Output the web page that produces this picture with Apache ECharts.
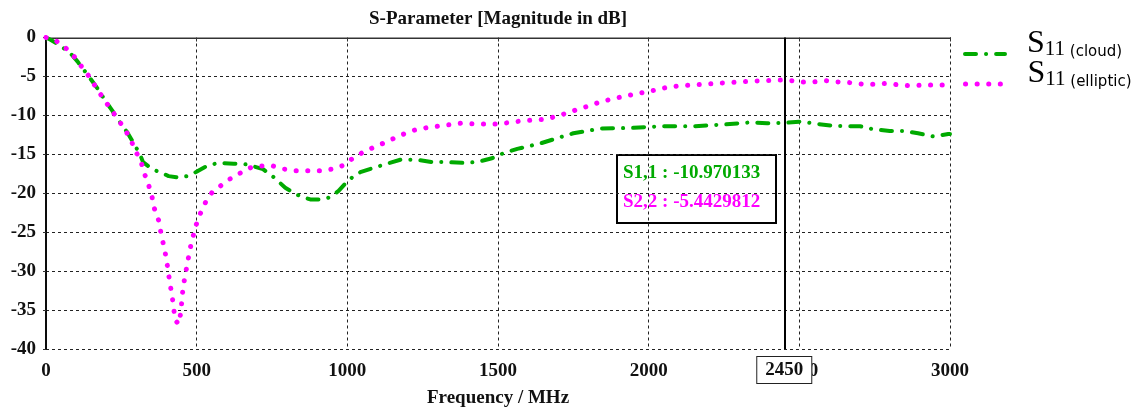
<!DOCTYPE html>
<html>
<head>
<meta charset="utf-8">
<script src="https://cdn.jsdelivr.net/npm/echarts@6/dist/echarts.min.js"></script>
<style>
  html, body { margin: 0; padding: 0; background: #fff; }
  #chart { width: 1141px; height: 410px; }
</style>
</head>
<body>
<div id="chart"></div>
<script>
// S11 of the cloud-shaped design (frequency in MHz, magnitude in dB)
const cloudFreq = [0, 15, 50, 85, 105, 140, 170, 200, 220, 240, 270, 293, 313, 322, 352, 390, 407, 443, 479, 501,
  529, 570, 623, 667, 720, 758, 794, 833, 877, 916, 944, 971, 999, 1015, 1043, 1082, 1132, 1176, 1231, 1281,
  1331, 1386, 1430, 1480, 1508, 1564, 1641, 1707, 1750, 1840, 1950, 2040, 2150, 2238, 2338, 2393, 2450, 2503,
  2560, 2603, 2658, 2702, 2746, 2800, 2845, 2894, 2944, 2994, 3000];
const cloudDb = [0, -0.3, -1.1, -2.2, -3.1, -4.9, -6.5, -8.3, -9.4, -10.6, -12.2, -13.7, -15.1, -16.0, -16.9, -17.5, -17.8, -18.0, -17.7, -17.2,
  -16.6, -16.1, -16.2, -16.3, -16.9, -18.0, -19.3, -20.2, -20.8, -20.8, -20.5, -19.7, -18.5, -18.0, -17.3, -16.8, -16.2, -15.7, -15.7, -16.0,
  -16.0, -16.1, -16.0, -15.5, -15.0, -14.3, -13.6, -12.8, -12.3, -11.7, -11.6, -11.4, -11.4, -11.2, -10.9, -11.0, -10.970133, -10.8,
  -11.1, -11.3, -11.4, -11.4, -11.8, -12.0, -12.0, -12.3, -12.7, -12.4, -12.4];

// S11 of the elliptic design
const ellipticFreq = [0, 36, 70, 97, 123, 147, 167, 190, 213, 237, 260, 280, 296, 315, 326, 341, 352, 360, 374, 382,
  391, 399, 405, 411, 418, 424, 427, 440, 448, 451, 455, 462, 470, 477, 487, 497, 511, 529, 551, 581,
  609, 645, 680, 715, 753, 791, 830, 870, 910, 951, 988, 1015, 1049, 1082, 1118, 1152, 1187, 1222, 1261, 1300,
  1340, 1378, 1419, 1459, 1502, 1541, 1580, 1618, 1657, 1696, 1729, 1766, 1801, 1838, 1878, 1913, 1950, 1989, 2028, 2061,
  2103, 2144, 2183, 2221, 2260, 2304, 2348, 2387, 2450, 2509, 2547, 2590, 2628, 2669, 2710, 2752, 2790, 2831, 2871, 2910,
  2951, 3000];
const ellipticDb = [0, -0.5, -1.5, -2.6, -4.0, -5.2, -6.5, -7.8, -9.1, -10.4, -11.7, -13.0, -14.5, -15.9, -17.4, -19.0, -20.5, -22.0, -23.5, -25.2,
  -26.8, -28.3, -29.9, -31.5, -33.1, -34.7, -36.2, -36.8, -35.2, -33.6, -32.1, -30.5, -28.9, -27.3, -25.7, -24.2, -22.7, -21.2, -19.9, -19.0,
  -18.2, -17.4, -16.7, -16.5, -16.5, -16.9, -17.1, -17.1, -17.1, -16.9, -16.4, -15.6, -14.8, -14.2, -13.6, -13.0, -12.4, -11.9, -11.6, -11.4,
  -11.2, -11.0, -11.1, -11.1, -11.1, -10.9, -10.7, -10.6, -10.5, -10.1, -9.7, -9.2, -8.8, -8.3, -7.9, -7.6, -7.3, -7.0, -6.7, -6.4,
  -6.2, -6.1, -6.0, -5.9, -5.8, -5.7, -5.6, -5.55, -5.4429812, -5.7, -5.7, -5.55, -5.7, -5.8, -6.0, -6.0, -5.9, -6.1, -6.2, -6.1,
  -6.1, -6.1];

// axis ranges and marker frequency
const xTicks = [0, 500, 1000, 1500, 2000, 2500, 3000];
const yTicks = [-40, -35, -30, -25, -20, -15, -10, -5, 0];
const markerFreq = 2450;

const GREEN = '#00aa00';
const MAGENTA = '#ff00ff';
const SERIF = '"Liberation Serif", "Times New Roman", serif';
const FS = 19;

const cloudLine = { color: GREEN, width: 4, type: [11, 10, 0.1, 10], cap: 'round' };
const ellipticLine = { color: MAGENTA, width: 5, type: [0.1, 11.5], cap: 'round' };

function pairs(xs, ys) { return xs.map((x, i) => [x, ys[i]]); }
function valueAt(xs, ys, f) { return ys[xs.indexOf(f)]; }

const legendRich = {
  s: { fontFamily: SERIF, fontSize: 32, color: '#000', verticalAlign: 'bottom', lineHeight: 34 },
  n: { fontFamily: SERIF, fontSize: 21, color: '#000', verticalAlign: 'bottom', lineHeight: 28 },
  t: { fontFamily: '"DejaVu Sans", sans-serif', fontSize: 15, color: '#000', verticalAlign: 'bottom', lineHeight: 27 }
};

function legendFor(name, label, top, lineStyle) {
  return {
    data: [name],
    left: 963, top: top,
    orient: 'vertical',
    padding: 0,
    itemWidth: 40, itemHeight: 10,
    itemStyle: { opacity: 0 },
    lineStyle: lineStyle,
    formatter: () => '{s|S}{n|11}{t| ' + label + '}',
    textStyle: { padding: [0, 0, 22, 17], rich: legendRich }
  };
}

const chart = echarts.init(document.getElementById('chart'), null, { renderer: 'canvas' });

const cloudAtMarker = valueAt(cloudFreq, cloudDb, markerFreq);
const ellipticAtMarker = valueAt(ellipticFreq, ellipticDb, markerFreq);

chart.setOption({
  animation: false,
  backgroundColor: '#fff',
  title: {
    text: 'S-Parameter [Magnitude in dB]',
    left: 364, top: 5,
    textStyle: { fontFamily: SERIF, fontWeight: 'bold', fontSize: FS, color: '#111' }
  },
  legend: [
    legendFor('S11 (cloud)', '(cloud)', 28, cloudLine),
    legendFor('S11 (elliptic)', '(elliptic)', 58, ellipticLine)
  ],
  grid: { left: 46, right: 191, top: 37.5, bottom: 61, containLabel: false, outerBoundsMode: 'none' },
  xAxis: [{
    type: 'value', min: xTicks[0], max: xTicks[xTicks.length - 1], interval: 500,
    name: 'Frequency / MHz', nameLocation: 'middle', nameGap: 40,
    nameTextStyle: { fontFamily: SERIF, fontWeight: 'bold', fontSize: FS, color: '#111' },
    axisLine: { lineStyle: { color: '#333', width: 2 } },
    axisTick: { show: true, length: 4, lineStyle: { color: '#333', width: 1 } },
    axisLabel: { fontFamily: SERIF, fontWeight: 'bold', fontSize: FS, color: '#111', margin: 13,
      formatter: v => String(v) },
    splitLine: { show: true, lineStyle: { color: '#222', width: 1, type: [3, 3] } }
  }, {
    type: 'value', position: 'top', min: xTicks[0], max: xTicks[xTicks.length - 1],
    axisLine: { show: true, lineStyle: { color: '#999', width: 1 } },
    axisTick: { show: false }, axisLabel: { show: false }, splitLine: { show: false }
  }],
  yAxis: [{
    type: 'value', min: yTicks[0], max: yTicks[yTicks.length - 1], interval: 5,
    axisLine: { show: true, lineStyle: { color: '#333', width: 2 } },
    axisTick: { show: true, length: 3, lineStyle: { color: '#333', width: 1 } },
    axisLabel: { fontFamily: SERIF, fontWeight: 'bold', fontSize: FS, color: '#111', margin: 10 },
    splitLine: { show: true, lineStyle: { color: '#222', width: 1, type: [3, 3] } }
  }, {
    type: 'value', position: 'right', min: yTicks[0], max: yTicks[yTicks.length - 1],
    axisLine: { show: true, lineStyle: { color: '#000', width: 1.5 } },
    axisTick: { show: false }, axisLabel: { show: false }, splitLine: { show: false }
  }],
  series: [{
    name: 'S11 (cloud)',
    type: 'line',
    data: pairs(cloudFreq, cloudDb),
    showSymbol: false, symbol: 'none',
    z: 3,
    lineStyle: cloudLine,
    itemStyle: { color: GREEN },
    markLine: {
      silent: true, symbol: 'none',
      lineStyle: { color: '#000', width: 2, type: 'solid' },
      label: {
        show: true, position: 'start', distance: 8,
        formatter: String(markerFreq),
        fontFamily: SERIF, fontWeight: 'bold', fontSize: FS, color: '#111',
        backgroundColor: '#fff', borderColor: '#222', borderWidth: 1,
        padding: [4, 8, 3, 8]
      },
      data: [{ xAxis: markerFreq }]
    }
  }, {
    name: 'S11 (elliptic)',
    type: 'line',
    data: pairs(ellipticFreq, ellipticDb),
    showSymbol: false, symbol: 'none',
    z: 4,
    lineStyle: ellipticLine,
    itemStyle: { color: MAGENTA }
  }],
  graphic: [{
    type: 'group', left: 616, top: 154, z: 100,
    children: [{
      type: 'rect',
      shape: { x: 0, y: 0, width: 159, height: 68 },
      style: { fill: '#fff', stroke: '#000', lineWidth: 2 }
    }, {
      type: 'text', x: 6, y: 18,
      style: {
        text: 'S1,1 : ' + cloudAtMarker, fill: GREEN,
        font: 'bold ' + FS + 'px ' + SERIF, textVerticalAlign: 'middle'
      }
    }, {
      type: 'text', x: 6, y: 47,
      style: {
        text: 'S2,2 : ' + ellipticAtMarker, fill: MAGENTA,
        font: 'bold ' + FS + 'px ' + SERIF, textVerticalAlign: 'middle'
      }
    }]
  }]
});
</script>
</body>
</html>
